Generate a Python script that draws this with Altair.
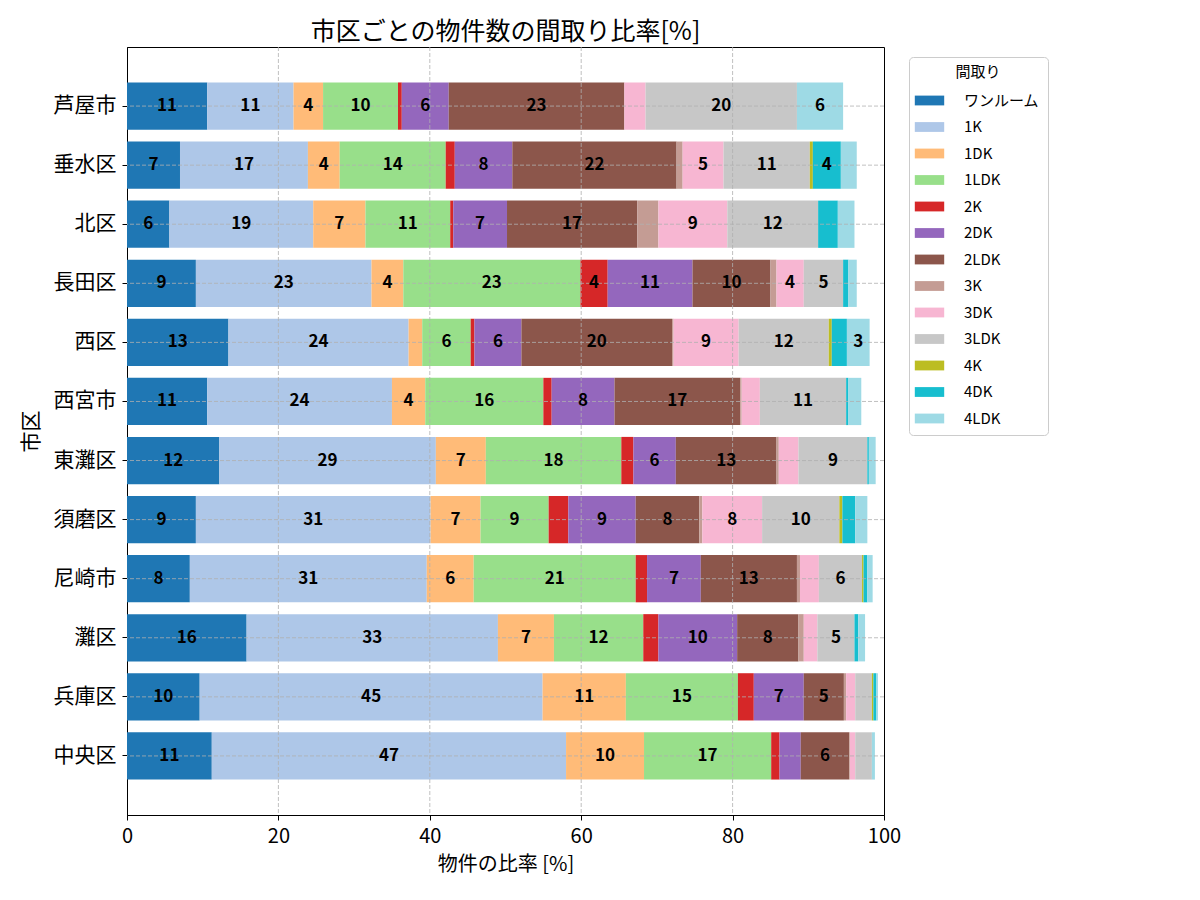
import altair as alt
import pandas as pd

FONT = "Noto Sans CJK JP"

cities = ["芦屋市", "垂水区", "北区", "長田区", "西区", "西宮市", "東灘区",
          "須磨区", "尼崎市", "灘区", "兵庫区", "中央区"]
layouts = ["ワンルーム", "1K", "1DK", "1LDK", "2K", "2DK", "2LDK", "3K",
           "3DK", "3LDK", "4K", "4DK", "4LDK"]
colors = ["#1f77b4", "#aec7e8", "#ffbb78", "#98df8a", "#d62728", "#9467bd",
          "#8c564b", "#c49c94", "#f7b6d2", "#c7c7c7", "#bcbd22", "#17becf",
          "#9edae5"]
xticks = [0, 20, 40, 60, 80, 100]
xgrid = [20, 40, 60, 80]

# values in layout order (ワンルーム ... 4LDK), percent
ashiya = [10.6, 11.4, 3.9, 9.9, 0.5, 6.2, 23.2, 0.0, 2.8, 20.0, 0.0, 0.0, 6.1]
tarumi = [7.0, 16.9, 4.2, 14.0, 1.2, 7.6, 21.7, 0.8, 5.4, 11.4, 0.4, 3.7, 2.1]
kita = [5.6, 19.0, 6.9, 11.2, 0.4, 7.1, 17.2, 2.8, 9.1, 12.0, 0.0, 2.6, 2.2]
nagata = [9.1, 23.2, 4.2, 23.4, 3.6, 11.2, 10.3, 0.8, 3.6, 5.2, 0.0, 0.7, 1.1]
nishi = [13.4, 23.8, 1.8, 6.4, 0.5, 6.2, 19.9, 0.2, 8.6, 11.9, 0.4, 2.0, 3.0]
nishinomiya = [10.6, 24.4, 4.4, 15.6, 1.1, 8.3, 16.6, 0.2, 2.4, 11.4, 0.0, 0.3, 1.7]
higashinada = [12.2, 28.6, 6.6, 17.9, 1.6, 5.6, 13.3, 0.3, 2.6, 9.1, 0.0, 0.2, 0.9]
suma = [9.1, 31.0, 6.6, 9.0, 2.6, 8.9, 8.4, 0.4, 7.9, 10.2, 0.4, 1.7, 1.6]
amagasaki = [8.3, 31.3, 6.2, 21.4, 1.5, 7.1, 12.7, 0.4, 2.5, 5.7, 0.2, 0.5, 0.7]
nada = [15.8, 33.2, 7.4, 11.8, 2.0, 10.4, 8.1, 0.7, 1.8, 4.9, 0.0, 0.5, 0.9]
hyogo = [9.6, 45.3, 11.0, 14.8, 2.1, 6.6, 5.3, 0.3, 1.2, 2.2, 0.2, 0.4, 0.2]
chuo = [11.2, 46.8, 10.3, 16.8, 1.1, 2.8, 6.4, 0.1, 0.7, 2.2, 0.0, 0.0, 0.4]

series = [ashiya, tarumi, kita, nagata, nishi, nishinomiya, higashinada,
          suma, amagasaki, nada, hyogo, chuo]

rows = []
for city, vals in zip(cities, series):
    for i, (lay, v) in enumerate(zip(layouts, vals)):
        rows.append({"city": city, "layout": lay, "order": i, "value": v})
df = pd.DataFrame(rows)

base = alt.Chart(df).transform_stack(
    stack="value", groupby=["city"], as_=["x0", "x1"],
    sort=[alt.SortField("order", order="ascending")]
)

yscale = alt.Scale(paddingInner=0.2, paddingOuter=0.6)
xscale = alt.Scale(domain=[0, 100], nice=False)

yaxis = alt.Axis(title="市区", grid=False, labelFontSize=21, titleFontSize=21,
                 labelPadding=6, titlePadding=12, tickSize=5)
xaxis = alt.Axis(title="物件の比率 [%]", values=xticks, grid=False,
                 labelFontSize=20, titleFontSize=20, labelPadding=6,
                 titlePadding=8, tickSize=5, labelFlush=False)

bars = base.mark_bar().encode(
    y=alt.Y("city:N", sort=cities, scale=yscale, axis=yaxis),
    x=alt.X("x0:Q", scale=xscale, axis=xaxis),
    x2="x1:Q",
    color=alt.Color("layout:N", sort=layouts,
                    scale=alt.Scale(domain=layouts, range=colors),
                    legend=alt.Legend(title="間取り")),
)

grid_style = dict(color="#b0b0b0", strokeDash=[4, 2], strokeWidth=0.8)

gridx = alt.Chart(pd.DataFrame({"g": xgrid})).mark_rule(**grid_style).encode(
    x=alt.X("g:Q", scale=xscale, axis=xaxis)
)
gridy = alt.Chart(pd.DataFrame({"city": cities})).mark_rule(**grid_style).encode(
    y=alt.Y("city:N", sort=cities, scale=yscale, axis=yaxis)
)

text = base.transform_filter("datum.value >= 3").transform_calculate(
    mid="(datum.x0 + datum.x1) / 2"
).mark_text(font=FONT, fontWeight="bold", fontSize=17, color="black").encode(
    y=alt.Y("city:N", sort=cities, scale=yscale, axis=yaxis),
    x=alt.X("mid:Q", scale=xscale, axis=xaxis),
    text=alt.Text("value:Q", format=".0f"),
)

chart = alt.layer(bars, gridx, gridy, text).properties(
    width=757, height=768,
    title=alt.Title("市区ごとの物件数の間取り比率[%]", font=FONT, fontSize=25,
                    fontWeight="normal", anchor="middle", offset=2, color="black"),
    padding={"left": 127, "top": 47, "right": 316, "bottom": 85},
    autosize="none",
).configure_view(
    stroke="black", strokeWidth=1
).configure_axis(
    labelFont=FONT, titleFont=FONT, labelColor="black", titleColor="black",
    titleFontWeight="normal", domainColor="black", tickColor="black", zindex=1,
).configure_legend(
    orient="none", legendX=782, legendY=10,
    strokeColor="#cccccc", fillColor="white", cornerRadius=4, padding=8,
    titleFont=FONT, labelFont=FONT, titleFontSize=15, labelFontSize=15,
    titleFontWeight="normal", titleAnchor="middle", titlePadding=8,
    titleColor="black", labelColor="black",
    symbolType="M-1.2,-0.4H1.2V0.4H-1.2Z", symbolSize=600, symbolStrokeWidth=0,
    symbolOpacity=1, rowPadding=5.5, labelOffset=22,
)

chart.save("out.html", embed_options={"renderer": "svg", "actions": False})
